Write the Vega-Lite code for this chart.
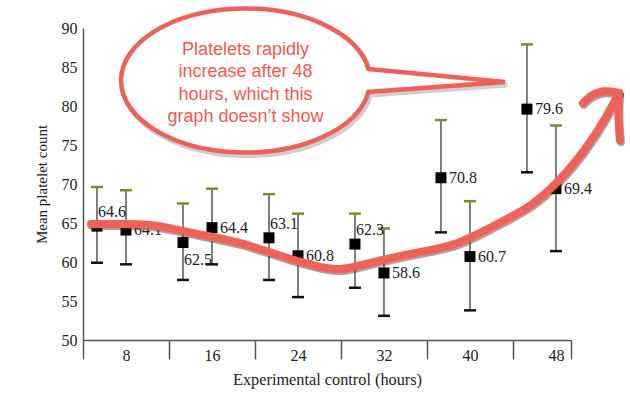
{
  "$schema": "https://vega.github.io/schema/vega-lite/v6.json",
  "width": 488,
  "height": 312,
  "autosize": {"type": "none"},
  "padding": {"left": 83, "top": 28, "right": 59, "bottom": 55},
  "background": "white",
  "config": {
    "view": {"stroke": null},
    "font": "Liberation Serif",
    "axis": {"domainColor": "#555", "tickColor": "#555", "labelColor": "#222", "titleColor": "#222", "domainWidth": 1.5, "tickWidth": 1.5, "labelFont": "Liberation Serif", "titleFont": "Liberation Serif", "labelFontSize": 16, "titleFontSize": 15, "titleFontWeight": "normal", "grid": false, "labelOverlap": false}
  },
  "datasets": {
    "stats": [
      {"hours": 8, "series": "A", "mean": 64.6, "lower": 59.9, "upper": 69.6},
      {"hours": 8, "series": "B", "mean": 64.1, "lower": 59.7, "upper": 69.2},
      {"hours": 16, "series": "A", "mean": 62.5, "lower": 57.7, "upper": 67.5},
      {"hours": 16, "series": "B", "mean": 64.4, "lower": 59.7, "upper": 69.4},
      {"hours": 24, "series": "A", "mean": 63.1, "lower": 57.7, "upper": 68.7},
      {"hours": 24, "series": "B", "mean": 60.8, "lower": 55.5, "upper": 66.2},
      {"hours": 32, "series": "A", "mean": 62.3, "lower": 56.7, "upper": 66.2},
      {"hours": 32, "series": "B", "mean": 58.6, "lower": 53.1, "upper": 64.3},
      {"hours": 40, "series": "A", "mean": 70.8, "lower": 63.8, "upper": 78.2},
      {"hours": 40, "series": "B", "mean": 60.7, "lower": 53.8, "upper": 67.8},
      {"hours": 48, "series": "A", "mean": 79.6, "lower": 71.5, "upper": 87.9},
      {"hours": 48, "series": "B", "mean": 69.4, "lower": 61.4, "upper": 77.5}
    ],
    "arrow": [
      {"part": "shaft", "seq": 1, "ax": 4.74, "ay": 64.87},
      {"part": "shaft", "seq": 2, "ax": 7.44, "ay": 64.87},
      {"part": "shaft", "seq": 3, "ax": 10.51, "ay": 64.87},
      {"part": "shaft", "seq": 4, "ax": 13.3, "ay": 63.97},
      {"part": "shaft", "seq": 5, "ax": 16.09, "ay": 63.21},
      {"part": "shaft", "seq": 6, "ax": 18.79, "ay": 62.44},
      {"part": "shaft", "seq": 7, "ax": 20.74, "ay": 61.54},
      {"part": "shaft", "seq": 8, "ax": 23.26, "ay": 60.38},
      {"part": "shaft", "seq": 9, "ax": 26.33, "ay": 59.23},
      {"part": "shaft", "seq": 10, "ax": 28.09, "ay": 58.97},
      {"part": "shaft", "seq": 11, "ax": 29.49, "ay": 59.49},
      {"part": "shaft", "seq": 12, "ax": 33.77, "ay": 60.9},
      {"part": "shaft", "seq": 13, "ax": 36.93, "ay": 61.67},
      {"part": "shaft", "seq": 14, "ax": 38.79, "ay": 62.31},
      {"part": "shaft", "seq": 15, "ax": 40.93, "ay": 63.72},
      {"part": "shaft", "seq": 16, "ax": 43.07, "ay": 65.26},
      {"part": "shaft", "seq": 17, "ax": 45.58, "ay": 67.05},
      {"part": "shaft", "seq": 18, "ax": 48.09, "ay": 70.0},
      {"part": "shaft", "seq": 19, "ax": 50.88, "ay": 74.62},
      {"part": "shaft", "seq": 20, "ax": 52.74, "ay": 78.72},
      {"part": "shaft", "seq": 21, "ax": 53.86, "ay": 81.67},
      {"part": "hook", "seq": 1, "ax": 50.51, "ay": 80.38},
      {"part": "hook", "seq": 2, "ax": 51.35, "ay": 81.54},
      {"part": "hook", "seq": 3, "ax": 52.56, "ay": 82.05},
      {"part": "hook", "seq": 4, "ax": 53.86, "ay": 81.67},
      {"part": "barb", "seq": 1, "ax": 53.86, "ay": 81.67},
      {"part": "barb", "seq": 2, "ax": 53.77, "ay": 78.85},
      {"part": "barb", "seq": 3, "ax": 53.95, "ay": 75.64}
    ],
    "bubble": [{"bx": 19.12, "by": 83.27}]
  },
  "layer": [
    {
      "data": {"name": "stats"},
      "transform": [{"filter": "datum.series === 'A'"}],
      "encoding": {
        "x": {"field": "hours", "type": "quantitative", "scale": {"domain": [4, 49.4], "nice": false, "zero": false}}
      },
      "layer": [
        {
          "mark": {"type": "rule", "color": "#555", "strokeWidth": 1.5, "xOffset": -29},
          "encoding": {
            "x": {"field": "hours", "type": "quantitative", "scale": {"domain": [4, 49.4], "nice": false, "zero": false},
              "axis": {"values": [4, 12, 20, 28, 36, 44, 49.4], "tickCount": 20, "labelExpr": "datum.value < 45 ? '' + (datum.value + 4) : ''", "labelOffset": 43, "tickSize": 19, "labelPadding": -12, "labelFlush": false, "labelOverlap": false, "labelBound": false, "title": "Experimental control (hours)", "titleFontSize": 16.3, "titlePadding": 8}},
            "y": {"field": "lower", "type": "quantitative", "scale": {"domain": [50, 90], "nice": false, "zero": false},
              "axis": {"values": [50, 55, 60, 65, 70, 75, 80, 85, 90], "tickCount": 20, "ticks": false, "labelPadding": 6, "labelOverlap": false, "title": "Mean platelet count", "titlePadding": 12}},
            "y2": {"field": "upper"}
          }
        },
        {
          "mark": {"type": "tick", "orient": "horizontal", "color": "#7d8c2e", "size": 12, "thickness": 2.5, "opacity": 1, "xOffset": -29},
          "encoding": {"y": {"field": "upper", "type": "quantitative", "scale": {"domain": [50, 90], "nice": false, "zero": false}}}
        },
        {
          "mark": {"type": "tick", "orient": "horizontal", "color": "#111", "size": 12, "thickness": 2.5, "opacity": 1, "xOffset": -29},
          "encoding": {"y": {"field": "lower", "type": "quantitative", "scale": {"domain": [50, 90], "nice": false, "zero": false}}}
        },
        {
          "mark": {"type": "point", "shape": "square", "filled": true, "color": "#000", "size": 121, "opacity": 1, "xOffset": -29},
          "encoding": {"y": {"field": "mean", "type": "quantitative", "scale": {"domain": [50, 90], "nice": false, "zero": false}}}
        }
      ]
    },
    {
      "data": {"name": "stats"},
      "transform": [{"filter": "datum.series === 'B'"}],
      "encoding": {
        "x": {"field": "hours", "type": "quantitative", "scale": {"domain": [4, 49.4], "nice": false, "zero": false}}
      },
      "layer": [
        {
          "mark": {"type": "rule", "color": "#555", "strokeWidth": 1.5},
          "encoding": {
            "y": {"field": "lower", "type": "quantitative", "scale": {"domain": [50, 90], "nice": false, "zero": false}},
            "y2": {"field": "upper"}
          }
        },
        {
          "mark": {"type": "tick", "orient": "horizontal", "color": "#7d8c2e", "size": 12, "thickness": 2.5, "opacity": 1},
          "encoding": {"y": {"field": "upper", "type": "quantitative", "scale": {"domain": [50, 90], "nice": false, "zero": false}}}
        },
        {
          "mark": {"type": "tick", "orient": "horizontal", "color": "#111", "size": 12, "thickness": 2.5, "opacity": 1},
          "encoding": {"y": {"field": "lower", "type": "quantitative", "scale": {"domain": [50, 90], "nice": false, "zero": false}}}
        },
        {
          "mark": {"type": "point", "shape": "square", "filled": true, "color": "#000", "size": 121, "opacity": 1},
          "encoding": {"y": {"field": "mean", "type": "quantitative", "scale": {"domain": [50, 90], "nice": false, "zero": false}}}
        }
      ]
    },
    {
      "data": {"name": "stats"},
      "transform": [{"filter": {"field": "mean", "oneOf": [64.1, 64.4, 60.8, 58.6, 60.7, 69.4]}}],
      "mark": {"type": "text", "align": "left", "baseline": "middle", "dx": 8, "font": "Liberation Serif", "fontSize": 16, "color": "#222"},
      "encoding": {
        "x": {"field": "hours", "type": "quantitative", "scale": {"domain": [4, 49.4], "nice": false, "zero": false}},
        "y": {"field": "mean", "type": "quantitative", "scale": {"domain": [50, 90], "nice": false, "zero": false}},
        "text": {"field": "mean", "type": "quantitative", "format": ".1f"}
      }
    },
    {
      "data": {"name": "stats"},
      "transform": [{"filter": {"field": "mean", "oneOf": [70.8, 79.6]}}],
      "mark": {"type": "text", "align": "left", "baseline": "middle", "dx": -21, "font": "Liberation Serif", "fontSize": 16, "color": "#222"},
      "encoding": {
        "x": {"field": "hours", "type": "quantitative", "scale": {"domain": [4, 49.4], "nice": false, "zero": false}},
        "y": {"field": "mean", "type": "quantitative", "scale": {"domain": [50, 90], "nice": false, "zero": false}},
        "text": {"field": "mean", "type": "quantitative", "format": ".1f"}
      }
    },
    {
      "data": {"name": "stats"},
      "transform": [{"filter": {"field": "mean", "oneOf": [64.6, 63.1, 62.3]}}],
      "mark": {"type": "text", "align": "left", "baseline": "middle", "dx": -28, "dy": -14, "font": "Liberation Serif", "fontSize": 16, "color": "#222"},
      "encoding": {
        "x": {"field": "hours", "type": "quantitative", "scale": {"domain": [4, 49.4], "nice": false, "zero": false}},
        "y": {"field": "mean", "type": "quantitative", "scale": {"domain": [50, 90], "nice": false, "zero": false}},
        "text": {"field": "mean", "type": "quantitative", "format": ".1f"}
      }
    },
    {
      "data": {"name": "stats"},
      "transform": [{"filter": {"field": "mean", "oneOf": [62.5]}}],
      "mark": {"type": "text", "align": "left", "baseline": "middle", "dx": -28, "dy": 17, "font": "Liberation Serif", "fontSize": 16, "color": "#222"},
      "encoding": {
        "x": {"field": "hours", "type": "quantitative", "scale": {"domain": [4, 49.4], "nice": false, "zero": false}},
        "y": {"field": "mean", "type": "quantitative", "scale": {"domain": [50, 90], "nice": false, "zero": false}},
        "text": {"field": "mean", "type": "quantitative", "format": ".1f"}
      }
    },
    {
      "data": {"name": "arrow"},
      "mark": {"type": "line", "interpolate": "basis", "color": "#5a2a26", "opacity": 0.45, "strokeWidth": 8, "strokeCap": "round", "strokeJoin": "round", "xOffset": 1, "yOffset": 2},
      "encoding": {
        "x": {"field": "ax", "type": "quantitative", "scale": {"domain": [4, 49.4], "nice": false, "zero": false}},
        "y": {"field": "ay", "type": "quantitative", "scale": {"domain": [50, 90], "nice": false, "zero": false}},
        "detail": {"field": "part", "type": "nominal"},
        "order": {"field": "seq", "type": "quantitative"}
      }
    },
    {
      "data": {"name": "arrow"},
      "mark": {"type": "line", "interpolate": "basis", "color": "#ef6257", "strokeWidth": 8, "strokeCap": "round", "strokeJoin": "round"},
      "encoding": {
        "x": {"field": "ax", "type": "quantitative", "scale": {"domain": [4, 49.4], "nice": false, "zero": false}},
        "y": {"field": "ay", "type": "quantitative", "scale": {"domain": [50, 90], "nice": false, "zero": false}},
        "detail": {"field": "part", "type": "nominal"},
        "order": {"field": "seq", "type": "quantitative"}
      }
    },
    {
      "data": {"name": "bubble"},
      "mark": {"type": "point", "shape": "M 1.229 -0.115 L 2.595 0.015 L 1.229 0.115 A 1.245 0.72 0 1 1 1.229 -0.115 Z", "size": 40000, "filled": false, "stroke": "#777", "strokeWidth": 5, "opacity": 0.35, "xOffset": 2, "yOffset": 3},
      "encoding": {
        "x": {"field": "bx", "type": "quantitative", "scale": {"domain": [4, 49.4], "nice": false, "zero": false}},
        "y": {"field": "by", "type": "quantitative", "scale": {"domain": [50, 90], "nice": false, "zero": false}}
      }
    },
    {
      "data": {"name": "bubble"},
      "mark": {"type": "point", "shape": "M 1.229 -0.115 L 2.595 0.015 L 1.229 0.115 A 1.245 0.72 0 1 1 1.229 -0.115 Z", "size": 40000, "filled": true, "fill": "white", "stroke": "#ee6157", "strokeWidth": 4.5, "opacity": 1, "fillOpacity": 1, "strokeOpacity": 1},
      "encoding": {
        "x": {"field": "bx", "type": "quantitative", "scale": {"domain": [4, 49.4], "nice": false, "zero": false}},
        "y": {"field": "by", "type": "quantitative", "scale": {"domain": [50, 90], "nice": false, "zero": false}}
      }
    },
    {
      "data": {"name": "bubble"},
      "mark": {"type": "text", "text": ["Platelets rapidly", "increase after 48", "hours, which this", "graph doesn’t show"], "font": "Liberation Sans", "fontSize": 18, "lineHeight": 22.3, "align": "center", "baseline": "alphabetic", "color": "#ec5a52", "dy": -25.5},
      "encoding": {
        "x": {"field": "bx", "type": "quantitative", "scale": {"domain": [4, 49.4], "nice": false, "zero": false}},
        "y": {"field": "by", "type": "quantitative", "scale": {"domain": [50, 90], "nice": false, "zero": false}}
      }
    }
  ]
}
